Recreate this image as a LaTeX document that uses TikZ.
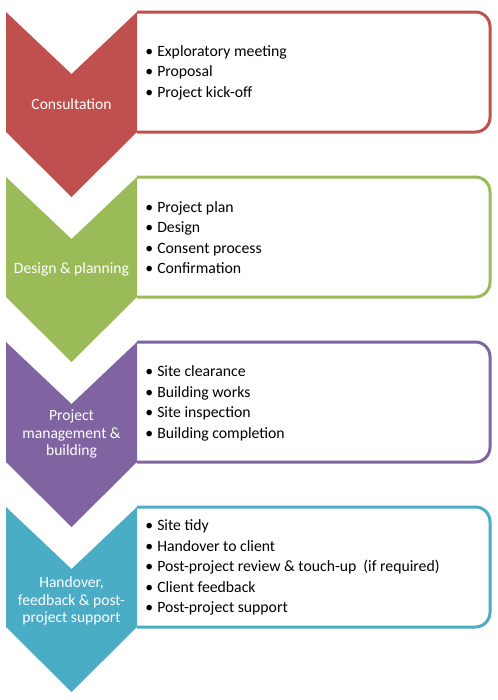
\documentclass[tikz,border=0pt]{standalone}
\usepackage{fontspec}
\setmainfont{Carlito}
\definecolor{cRed}{HTML}{C0504D}
\definecolor{cGreen}{HTML}{9BBB59}
\definecolor{cPurple}{HTML}{8064A2}
\definecolor{cTeal}{HTML}{4BACC6}
\newcommand{\bitem}[1]{\makebox[9pt][l]{\textbullet}#1}
\begin{document}
\begin{tikzpicture}[x=0.75pt,y=-0.75pt,
  boxline/.style={line width=2.25pt, rounded corners=11pt, fill=white},
  chevlabel/.style={text=white, align=center, inner sep=0pt, font=\fontsize{11.7}{13.1}\selectfont},
  listtext/.style={anchor=west, align=left, inner sep=0pt, font=\fontsize{11.8}{15.4}\selectfont}]
\useasboundingbox (0,0) rectangle (498,700);
% Stage 1
\begin{scope}\clip (137,5) rectangle (498,140);
\draw[boxline, draw=cRed] (100,12) rectangle (490,132);\end{scope}
\fill[cRed] (6,12) -- (71.5,74) -- (137,12) -- (137,132) -- (71.5,197) -- (6,132) -- cycle;
\node[chevlabel] (c1) at (71.5,104) {Consultation};
\node[listtext] (l1) at (145,72.5) {\bitem{Exploratory meeting}\\\bitem{Proposal}\\\bitem{Project kick-off}};
% Stage 2
\begin{scope}\clip (137,170) rectangle (498,305);
\draw[boxline, draw=cGreen] (100,177) rectangle (490,297);\end{scope}
\fill[cGreen] (6,177) -- (71.5,239) -- (137,177) -- (137,297) -- (71.5,362) -- (6,297) -- cycle;
\node[chevlabel] (c2) at (71.5,269) {Design \& planning};
\node[listtext] (l2) at (145,237.5) {\bitem{Project plan}\\\bitem{Design}\\\bitem{Consent process}\\\bitem{Confirmation}};
% Stage 3
\begin{scope}\clip (137,335) rectangle (498,470);
\draw[boxline, draw=cPurple] (100,342) rectangle (490,462);\end{scope}
\fill[cPurple] (6,342) -- (71.5,404) -- (137,342) -- (137,462) -- (71.5,527) -- (6,462) -- cycle;
\node[chevlabel] (c3) at (71.5,434) {Project\\management \&\\building};
\node[listtext] (l3) at (145,403.5) {\bitem{Site clearance}\\\bitem{Building works}\\\bitem{Site inspection}\\\bitem{Building completion}};
% Stage 4
\begin{scope}\clip (137,500) rectangle (498,635);
\draw[boxline, draw=cTeal] (100,507) rectangle (490,627);\end{scope}
\fill[cTeal] (6,507) -- (71.5,569) -- (137,507) -- (137,627) -- (71.5,692) -- (6,627) -- cycle;
\node[chevlabel] (c4) at (71.5,601) {Handover,\\feedback \& post-\\project support};
\node[listtext] (l4) at (145,567.5) {\bitem{Site tidy}\\\bitem{Handover to client}\\\bitem{Post-project review \& touch-up\ \ (if required)}\\\bitem{Client feedback}\\\bitem{Post-project support}};
\end{tikzpicture}
\end{document}
